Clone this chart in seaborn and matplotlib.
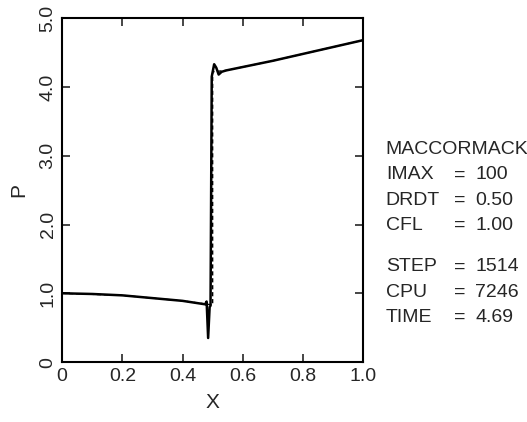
import matplotlib
matplotlib.use("Agg")
import matplotlib.pyplot as plt
import seaborn as sns
import pandas as pd

# computed solution (MacCormack)
x_num = [0.0, 0.1, 0.2, 0.3, 0.4, 0.46, 0.475, 0.48, 0.485, 0.49, 0.493, 0.497,
         0.505, 0.512, 0.52, 0.53, 0.545, 0.7, 0.85, 1.0]
p_num = [1.00, 0.99, 0.97, 0.93, 0.89, 0.85, 0.84, 0.88, 0.35, 0.80, 0.82, 4.15,
         4.33, 4.28, 4.18, 4.22, 4.24, 4.38, 4.53, 4.68]

# exact solution
x_ex = [0.0, 0.2, 0.4, 0.5, 0.5, 0.545, 0.7, 0.85, 1.0]
p_ex = [1.00, 0.97, 0.89, 0.83, 4.22, 4.24, 4.38, 4.53, 4.68]

x_ticks = [0, 0.2, 0.4, 0.6, 0.8, 1.0]
x_ticklabels = ["0", "0.2", "0.4", "0.6", "0.8", "1.0"]
y_ticks = [0, 1, 2, 3, 4, 5]
y_ticklabels = ["0", "1.0", "2.0", "3.0", "4.0", "5.0"]

info_top = [("MACCORMACK", ""), ("IMAX", "100"), ("DRDT", "0.50"), ("CFL", "1.00")]
info_bot = [("STEP", "1514"), ("CPU", "7246"), ("TIME", "4.69")]

sns.set_style("ticks")
plt.rcParams['font.family'] = ['Liberation Sans', 'DejaVu Sans']

fig = plt.figure(figsize=(5.27, 4.22), dpi=100)
ax = fig.add_axes([0.118, 0.142, 0.571, 0.815])

num = pd.DataFrame({"x": x_num, "p": p_num})
ex = pd.DataFrame({"x": x_ex, "p": p_ex})
sns.lineplot(data=ex, x="x", y="p", sort=False, estimator=None, color="black",
             lw=1.0, linestyle=(0, (3, 2)), ax=ax)
sns.lineplot(data=num, x="x", y="p", sort=False, estimator=None, color="black",
             lw=1.8, ax=ax)

ax.set_xlim(0, 1.0)
ax.set_ylim(0, 5.0)
ax.set_xticks(x_ticks)
ax.set_xticklabels(x_ticklabels, fontsize=14)
ax.set_yticks(y_ticks)
ax.set_yticklabels(y_ticklabels, fontsize=14, rotation=90, va="center")
ax.tick_params(direction="in", top=True, right=True, length=6, width=1.2, pad=4)
ax.set_xlabel("X", fontsize=15, labelpad=6)
ax.set_ylabel("P", fontsize=15, labelpad=8)
for s in ax.spines.values():
    s.set_linewidth(1.5)
    s.set_color("black")

y0 = 0.635
for i, (k, v) in enumerate(info_top):
    yy = y0 - i * 0.06
    fig.text(0.732, yy, k, fontsize=14)
    if v:
        fig.text(0.862, yy, "=", fontsize=14)
        fig.text(0.902, yy, v, fontsize=14)
y1 = 0.357
for i, (k, v) in enumerate(info_bot):
    yy = y1 - i * 0.06
    fig.text(0.732, yy, k, fontsize=14)
    fig.text(0.862, yy, "=", fontsize=14)
    fig.text(0.902, yy, v, fontsize=14)

fig.savefig("out.png", dpi=100)
